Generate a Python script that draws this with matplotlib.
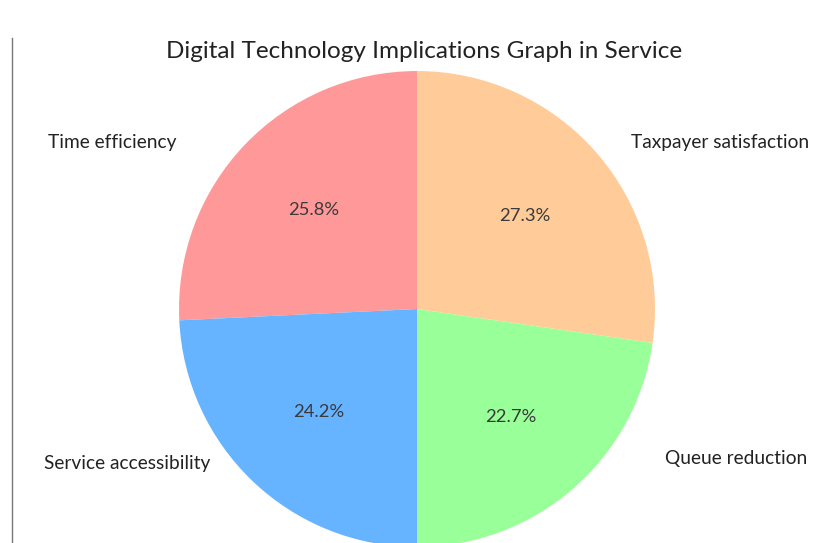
import matplotlib.pyplot as plt
from matplotlib.lines import Line2D

# valores do grafico
categorias = ['Time efficiency', 'Service accessibility', 'Queue reduction', 'Taxpayer satisfaction']
respostas = [17, 16, 15, 18]
cores = ['#ff9999', '#66b3ff', '#99ff99', '#ffcc99']

# posicao dos rotulos (coordenadas do pie, raio 1)
pos_rotulos = [(-1.01, 0.70, 'right'), (-0.87, -0.65, 'right'),
               (1.04, -0.63, 'left'), (0.90, 0.70, 'left')]

plt.rcParams['font.family'] = ['Lato', 'DejaVu Sans']

fig = plt.figure(figsize=(8.14, 5.43), dpi=100)
ax = fig.add_axes([0.2199, -0.0074, 0.5848, 0.8766])

wedges, textos, pcts = ax.pie(respostas, labels=categorias, colors=cores,
                              autopct='%1.1f%%', startangle=90, pctdistance=0.6,
                              textprops={'fontsize': 13.8, 'color': '#222222'})
for t, (x, y, ha) in zip(textos, pos_rotulos):
    t.set_position((x, y))
    t.set_ha(ha)
    t.set_va('center')
for p in pcts:
    p.set_fontsize(13.2)
    p.set_color('#3a3a3a')

ax.set_xlim(-1, 1)
ax.set_ylim(-1, 1)
ax.set_aspect('equal')

fig.text(0.521, 0.905, 'Digital Technology Implications Graph in Service',
         ha='center', va='center', fontsize=17.5, color='#222222')

# linha vertical na borda esquerda
fig.add_artist(Line2D([12 / 814, 12 / 814], [0, 1 - 38 / 543], color='#777777', lw=1))

fig.savefig('out.png', dpi=100)
